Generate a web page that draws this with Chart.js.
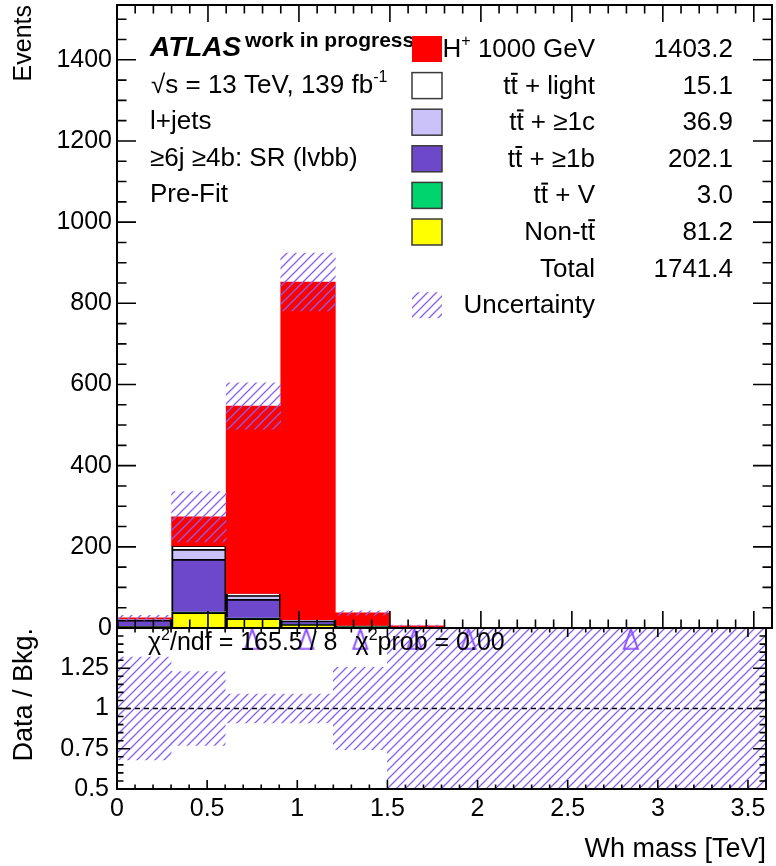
<!DOCTYPE html>
<html>
<head>
<meta charset="utf-8">
<script src="https://cdn.jsdelivr.net/npm/chart.js@4.4.1/dist/chart.umd.min.js"></script>
<style>
  html, body { margin: 0; padding: 0; background: #fff; }
  #wrap { position: relative; width: 776px; height: 866px; }
  #wrap canvas { position: absolute; left: 0; }
  #mainCanvas { top: 0; }
  #ratioCanvas { top: 600px; }
</style>
</head>
<body>
<div id="wrap">
  <canvas id="mainCanvas" width="776" height="650"></canvas>
  <canvas id="ratioCanvas" width="776" height="266"></canvas>
</div>
<script>
// binning (TeV) and pre-fit yields per bin
const binEdges = [0, 0.3, 0.6, 0.9, 1.2, 1.5, 1.8, 2.1, 2.4, 2.7, 3.0, 3.3, 3.6];
const hplus   = [3.0, 71.5, 461.9, 831.77, 31.0, 4.0, 0, 0, 0, 0, 0, 0];
const ttLight = [0.78, 8.0, 4.5, 1.4, 0.4, 0, 0, 0, 0, 0, 0, 0];
const ttC     = [1.48, 24.5, 9.0, 1.5, 0.4, 0, 0, 0, 0, 0, 0, 0];
const ttB     = [15.5, 130.0, 46.5, 8.5, 1.2, 0.42, 0, 0, 0, 0, 0, 0];
const ttV     = [0.08, 1.5, 1.0, 0.3, 0.1, 0, 0, 0, 0, 0, 0, 0];
const nonTT   = [4.5, 38.5, 24.0, 9.0, 4.0, 1.19, 0, 0, 0, 0, 0, 0];

// absolute uncertainty on the total, relative uncertainty in the ratio
const totalUnc = [6, 62, 57, 71, 5.5, 1.5, 0, 0, 0, 0, 0, 0];
const ratioUnc = [0.32, 0.23, 0.09, 0.09, 0.255, 1, 1, 1, 1, 1, 1, 1];
// bins where data/bkg lies above the ratio range
const ratioOverflowBins = [2, 3, 4, 5, 6, 9];

const chi2 = 165.5, ndf = 8, chi2Prob = 0.00;

// legend order, top to bottom
const sampleLabels = [
  [['H'], ['+', 'sup'], [' 1000 GeV']],
  [['t'], ['t', 'bar'], [' + light']],
  [['t'], ['t', 'bar'], [' + \u22651c']],
  [['t'], ['t', 'bar'], [' + \u22651b']],
  [['t'], ['t', 'bar'], [' + V']],
  [['Non-t'], ['t', 'bar']]
];
const sampleYields = [hplus, ttLight, ttC, ttB, ttV, nonTT];
const sampleColors = ['#ff0000', '#ffffff', '#ccc2fa', '#6d48cb', '#00d46e', '#ffff00'];

const FONT = '"Liberation Sans", Arial, sans-serif';
Chart.defaults.font.family = FONT;
Chart.defaults.color = '#000';

const hatchColor = '#8860f0';
const markerColor = '#8a4dff';

const centers = binEdges.slice(0, -1).map((e, i) => (e + binEdges[i + 1]) / 2);
const sum = a => a.reduce((s, v) => s + v, 0);

// cumulative stack, bottom (Non-tt) to top (signal)
const lows = [], highs = [];
let running = centers.map(() => 0);
for (let s = sampleYields.length - 1; s >= 0; s--) {
  lows[s] = running.slice();
  running = running.map((v, i) => v + sampleYields[s][i]);
  highs[s] = running.slice();
}
const totals = running;

function makeHatch(ctx) {
  const n = 9;
  const c = document.createElement('canvas');
  c.width = n; c.height = n;
  const g = c.getContext('2d');
  g.strokeStyle = hatchColor;
  g.lineWidth = 1.3;
  g.beginPath();
  g.moveTo(0, n); g.lineTo(n, 0);
  g.moveTo(-2, 2); g.lineTo(2, -2);
  g.moveTo(n - 2, n + 2); g.lineTo(n + 2, n - 2);
  g.stroke();
  return ctx.createPattern(c, 'repeat');
}

function makeTriangle() {
  const w = 18, h = 23;
  const c = document.createElement('canvas');
  c.width = w; c.height = h;
  const g = c.getContext('2d');
  g.strokeStyle = markerColor;
  g.lineWidth = 2;
  g.beginPath();
  g.moveTo(w / 2, 1.5); g.lineTo(w - 2, h - 1.5); g.lineTo(2, h - 1.5); g.closePath();
  g.stroke();
  return c;
}

// text with superscripts and overlined letters
function drawParts(ctx, parts, x, y, size, align) {
  const fontFor = p => (p[1] === 'sup' ? Math.round(size * 0.62) : size) + 'px ' + FONT;
  const widths = parts.map(p => { ctx.font = fontFor(p); return ctx.measureText(p[0]).width; });
  let cx = align === 'right' ? x - sum(widths) : x;
  ctx.textAlign = 'left';
  parts.forEach((p, i) => {
    ctx.font = fontFor(p);
    ctx.fillText(p[0], cx, p[1] === 'sup' ? y - size * 0.42 : y);
    if (p[1] === 'bar') ctx.fillRect(cx + 0.5, y - size * 0.8, widths[i] - 0.5, 2);
    cx += widths[i];
  });
  return cx;
}

// frame with inward ticks on all four sides
const frameTicks = {
  id: 'frameTicks',
  afterDatasetsDraw(chart, args, o) {
    const { ctx, chartArea: a } = chart;
    const xs = chart.scales.x, ys = chart.scales.y;
    ctx.save();
    ctx.strokeStyle = '#000';
    ctx.lineWidth = 1.6;
    ctx.beginPath();
    const nx = Math.round((xs.max - xs.min) / o.xMinor);
    for (let k = 0; k <= nx; k++) {
      const v = xs.min + k * o.xMinor;
      const major = Math.abs(v / o.xMajor - Math.round(v / o.xMajor)) < 1e-6;
      const len = major ? o.xLen : o.xLen / 2;
      const px = xs.getPixelForValue(v);
      ctx.moveTo(px, a.bottom); ctx.lineTo(px, a.bottom - len);
      ctx.moveTo(px, a.top); ctx.lineTo(px, a.top + len);
    }
    const ny = Math.floor((ys.max - ys.min) / o.yMinor + 1e-6);
    for (let k = 0; k <= ny; k++) {
      const v = ys.min + k * o.yMinor;
      const major = Math.abs(v / o.yMajor - Math.round(v / o.yMajor)) < 1e-6;
      const len = major ? o.yLen : o.yLen / 2;
      const py = ys.getPixelForValue(v);
      ctx.moveTo(a.left, py); ctx.lineTo(a.left + len, py);
      ctx.moveTo(a.right, py); ctx.lineTo(a.right - len, py);
    }
    ctx.stroke();
    ctx.lineWidth = 2;
    ctx.strokeRect(a.left, a.top, a.right - a.left, a.bottom - a.top);
    ctx.restore();
  }
};

const mainCtx = document.getElementById('mainCanvas').getContext('2d');
const ratioCtx = document.getElementById('ratioCanvas').getContext('2d');
const mainHatch = makeHatch(mainCtx);
const ratioHatch = makeHatch(ratioCtx);

// ATLAS label, region text and yield table
const atlasLegend = {
  id: 'atlasLegend',
  afterDraw(chart) {
    const { ctx, chartArea: a } = chart;
    const row = i => a.top + 52 + i * 36.6;
    const fs = 26;
    ctx.save();
    ctx.fillStyle = '#000';
    ctx.textBaseline = 'alphabetic';
    ctx.textAlign = 'left';
    ctx.font = 'italic bold 28px ' + FONT;
    ctx.fillText('ATLAS', a.left + 33, row(0) - 1);
    ctx.font = 'bold 21px ' + FONT;
    ctx.fillText('work in progress', a.left + 128, row(0) - 10);
    drawParts(ctx, [['\u221As = 13 TeV, 139 fb'], ['-1', 'sup']], a.left + 34, row(1) - 1, fs, 'left');
    drawParts(ctx, [['l+jets']], a.left + 33, row(2) - 1, fs, 'left');
    drawParts(ctx, [['\u22656j \u22654b: SR (lvbb)']], a.left + 33, row(3) - 1, fs, 'left');
    drawParts(ctx, [['Pre-Fit']], a.left + 33, row(4) - 1, fs, 'left');

    const boxX = a.left + 295, labelX = a.left + 478, valueX = a.left + 616;
    sampleLabels.forEach((parts, i) => {
      const y = row(i);
      ctx.fillStyle = '#000';
      drawParts(ctx, parts, labelX, y, fs, 'right');
      ctx.font = fs + 'px ' + FONT;
      ctx.textAlign = 'right';
      ctx.fillText(sum(sampleYields[i]).toFixed(1), valueX, y);
      ctx.fillStyle = sampleColors[i];
      ctx.fillRect(boxX, y - 21, 30, 26);
      if (i > 0) {
        ctx.strokeStyle = '#3a3a3a';
        ctx.lineWidth = 1.5;
        ctx.strokeRect(boxX, y - 21, 30, 26);
      }
    });
    ctx.fillStyle = '#000';
    ctx.font = fs + 'px ' + FONT;
    ctx.textAlign = 'right';
    ctx.fillText('Total', labelX, row(6));
    ctx.fillText(sum(totals).toFixed(1), valueX, row(6));
    ctx.fillText('Uncertainty', labelX, row(7));
    ctx.fillStyle = mainHatch;
    ctx.fillRect(boxX, row(7) - 21, 30, 26);
    ctx.restore();
  }
};

const chi2Text = {
  id: 'chi2Text',
  afterDraw(chart) {
    const { ctx, chartArea: a } = chart;
    ctx.save();
    ctx.fillStyle = '#000';
    ctx.textBaseline = 'alphabetic';
    const y = a.top + 22;
    let x = drawParts(ctx, [['\u03C7'], ['2', 'sup'], ['/ndf = ' + chi2.toFixed(1) + ' / ' + ndf]], a.left + 31, y, 25, 'left');
    drawParts(ctx, [['\u03C7'], ['2', 'sup'], ['prob = ' + chi2Prob.toFixed(2)]], x + 18, y, 25, 'left');
    ctx.restore();
  }
};

const barBase = { grouped: false, barPercentage: 1, categoryPercentage: 1 };

const stackSets = sampleYields.map((vals, s) => Object.assign({
  data: centers.map((c, i) => ({ x: c, y: [lows[s][i], highs[s][i]] })),
  backgroundColor: sampleColors[s],
  borderColor: '#000',
  borderWidth: s === 0 ? 0 : 2,
  borderSkipped: 'start'
}, barBase));

const mainUncSet = Object.assign({
  data: centers.map((c, i) => ({ x: c, y: totalUnc[i] > 0 ? [totals[i] - totalUnc[i], totals[i] + totalUnc[i]] : null })),
  backgroundColor: mainHatch,
  borderWidth: 0
}, barBase);

const tickFont = { size: 25 };
const fmt = v => String(parseFloat(Number(v).toFixed(2)));
const noPad = s => { s.paddingTop = 0; s.paddingBottom = 0; s.paddingLeft = 0; s.paddingRight = 0; };

new Chart(mainCtx, {
  type: 'bar',
  data: { datasets: [mainUncSet].concat(stackSets) },
  options: {
    responsive: false,
    animation: false,
    layout: { padding: { top: 5, right: 4, left: 0, bottom: 0 } },
    plugins: {
      legend: { display: false },
      tooltip: { enabled: false },
      frameTicks: { xMajor: 0.5, xMinor: 0.1, xLen: 17, yMajor: 200, yMinor: 50, yLen: 19 }
    },
    scales: {
      x: {
        type: 'linear', min: 0, max: 3.6, offset: false,
        grid: { display: false }, border: { display: false },
        ticks: { display: false, stepSize: 0.5, includeBounds: false },
        afterFit: s => { s.height = 22; noPad(s); }
      },
      y: {
        min: 0, max: 1535,
        grid: { display: false, drawTicks: false }, border: { display: false },
        ticks: { stepSize: 200, includeBounds: false, padding: 5, font: tickFont, callback: fmt },
        title: { display: true, text: 'Events', align: 'end', font: { size: 25 }, padding: { top: 9, bottom: 0 } },
        afterFit: s => { s.width = 117; noPad(s); }
      }
    }
  },
  plugins: [frameTicks, atlasLegend]
});

const ratioMin = 0.5, ratioMax = 1.5;

const overflowSet = {
  type: 'line',
  showLine: false,
  data: ratioOverflowBins.map(b => ({ x: centers[b], y: ratioMax - 0.068 })),
  pointStyle: makeTriangle(),
  pointRadius: 9,
  clip: false
};

const unitLine = {
  type: 'line',
  data: [{ x: binEdges[0], y: 1 }, { x: binEdges[binEdges.length - 1], y: 1 }],
  borderColor: '#000',
  borderWidth: 1.6,
  borderDash: [5, 4],
  pointRadius: 0
};

const ratioUncSet = Object.assign({
  data: centers.map((c, i) => ({ x: c, y: [1 - ratioUnc[i], 1 + ratioUnc[i]] })),
  backgroundColor: ratioHatch,
  borderWidth: 0
}, barBase);

new Chart(ratioCtx, {
  type: 'bar',
  data: { datasets: [overflowSet, unitLine, ratioUncSet] },
  options: {
    responsive: false,
    animation: false,
    layout: { padding: { top: 28, right: 4, left: 0, bottom: 0 } },
    plugins: {
      legend: { display: false },
      tooltip: { enabled: false },
      frameTicks: { xMajor: 0.5, xMinor: 0.1, xLen: 9, yMajor: 0.25, yMinor: 0.05, yLen: 13 }
    },
    scales: {
      x: {
        type: 'linear', min: 0, max: 3.6, offset: false,
        grid: { display: false, drawTicks: false }, border: { display: false },
        ticks: { stepSize: 0.5, includeBounds: false, autoSkip: false, maxRotation: 0, padding: 5, font: tickFont, callback: fmt },
        title: { display: true, text: 'Wh mass [TeV]', align: 'end', font: { size: 27 }, padding: { top: 0, bottom: 0 } },
        afterFit: s => { s.height = 77; noPad(s); }
      },
      y: {
        min: ratioMin, max: ratioMax,
        grid: { display: false, drawTicks: false }, border: { display: false },
        ticks: { stepSize: 0.25, includeBounds: false, padding: 8, font: tickFont,
          callback: v => (v >= ratioMax - 1e-9 ? '' : fmt(v)) },
        title: { display: true, text: 'Data / Bkg.', align: 'end', font: { size: 27 }, padding: { top: 8, bottom: 0 } },
        afterFit: s => { s.width = 117; noPad(s); }
      }
    }
  },
  plugins: [frameTicks, chi2Text]
});
</script>
</body>
</html>
